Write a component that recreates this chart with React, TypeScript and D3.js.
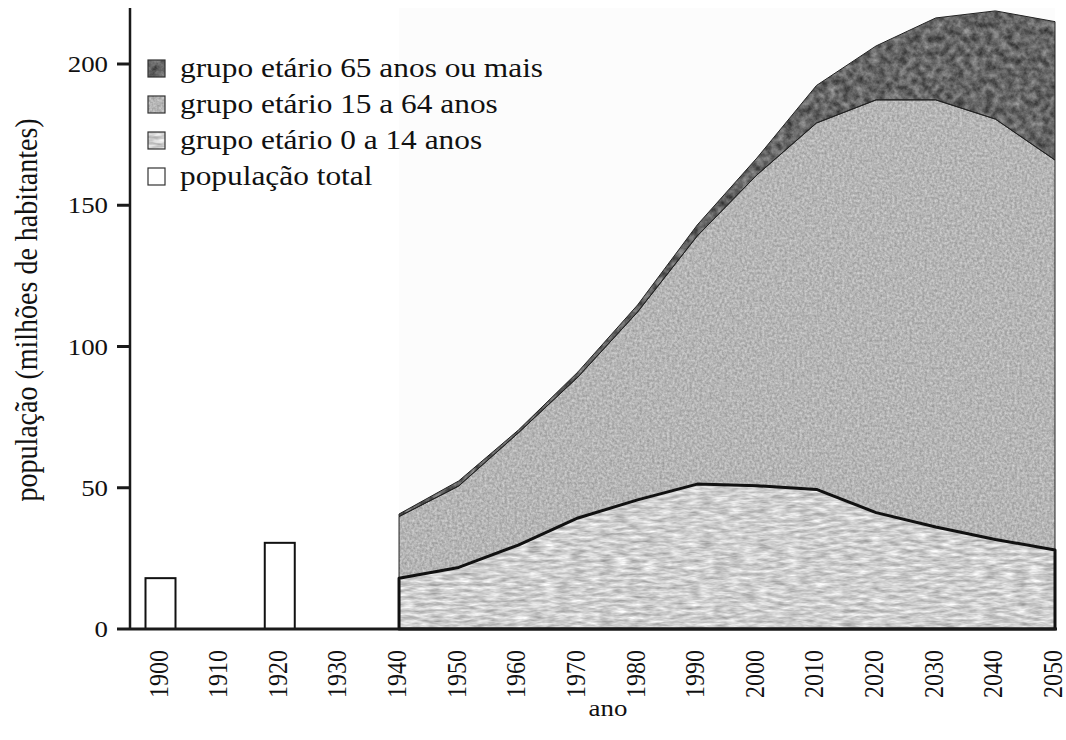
import * as d3 from "d3";

// projected population by age group, millions
const years = [1940, 1950, 1960, 1970, 1980, 1990, 2000, 2010, 2020, 2030, 2040, 2050];
const age0to14 = [18.0, 21.8, 29.7, 39.3, 45.7, 51.3, 50.7, 49.4, 41.2, 36.1, 31.7, 28.0];
const age15to64 = [21.8, 28.8, 39.7, 49.9, 66.5, 87.8, 110.0, 129.7, 146.1, 151.2, 148.8, 138.0];
const age65plus = [0.9, 1.8, 1.0, 1.8, 2.5, 3.9, 6.0, 13.3, 19.1, 29.0, 38.3, 49.0];

// census totals before 1940
const barYears = [1900, 1920];
const barTotals = [18.0, 30.5];

const xTicks = [1900, 1910, 1920, 1930, 1940, 1950, 1960, 1970, 1980, 1990, 2000, 2010, 2020, 2030, 2040, 2050];
const yTicks = [0, 50, 100, 150, 200];

const legendLabels = [
  "grupo etário 65 anos ou mais",
  "grupo etário 15 a 64 anos",
  "grupo etário 0 a 14 anos",
  "população total",
];
const legendFilters = ["tex-old", "tex-mid", "tex-young", null];

const W = 1066;
const H = 740;
const SERIF = "'Liberation Serif', 'Times New Roman', serif";
const STRETCH = 1.12; // text in the original is a bit wide horizontally

const App = () => {
  const x = d3.scaleLinear().domain([1900, 2050]).range([160.5, 1055]);
  const y = d3.scaleLinear().domain([0, 200]).range([629, 64]);

  const table = years.map((yr, i) => ({
    year: yr,
    young: age0to14[i],
    mid: age15to64[i],
    old: age65plus[i],
  }));
  const series = d3.stack<any>().keys(["young", "mid", "old"])(table);

  const area = d3
    .area<any>()
    .x((d) => x(d.data.year))
    .y0((d) => y(d[0]))
    .y1((d) => y(d[1]));

  const paths = series.map((s) => area(s) as string);
  const texIds = ["tex-young", "tex-mid", "tex-old"];

  const x0 = x(1940);
  const x1 = x(2050);
  const barW = 30;

  return (
    <svg
      width={W}
      height={H}
      viewBox={`0 0 ${W} ${H}`}
      style={{ position: "absolute", left: 0, top: 0, background: "#fff" }}
      fontFamily={SERIF}
    >
      <defs>
        <filter id="tex-old" x="0" y="0" width="1" height="1" colorInterpolationFilters="sRGB">
          <feTurbulence type="fractalNoise" baseFrequency="0.14" numOctaves={4} seed={7} />
          <feColorMatrix
            type="matrix"
            values="0.55 0 0 0 0.12  0.55 0 0 0 0.12  0.55 0 0 0 0.12  0 0 0 0 1"
          />
        </filter>
        <filter id="tex-mid" x="0" y="0" width="1" height="1" colorInterpolationFilters="sRGB">
          <feTurbulence type="fractalNoise" baseFrequency="0.4" numOctaves={2} seed={3} />
          <feColorMatrix
            type="matrix"
            values="0.32 0 0 0 0.55  0.32 0 0 0 0.55  0.32 0 0 0 0.55  0 0 0 0 1"
          />
        </filter>
        <filter id="tex-young" x="0" y="0" width="1" height="1" colorInterpolationFilters="sRGB">
          <feTurbulence type="fractalNoise" baseFrequency="0.07 0.3" numOctaves={3} seed={11} />
          <feColorMatrix
            type="matrix"
            values="0.5 0 0 0 0.56  0.5 0 0 0 0.56  0.5 0 0 0 0.56  0 0 0 0 1"
          />
        </filter>
        {paths.map((p, i) => (
          <clipPath key={i} id={`clip-${i}`}>
            <path d={p} />
          </clipPath>
        ))}
      </defs>

      {/* faint paper tone behind the projection period */}
      <rect x={x0} y={8} width={x1 - x0} height={y(0) - 8} fill="#fcfcfc" />

      {/* textured stacked areas */}
      {paths.map((p, i) => (
        <rect
          key={"t" + i}
          x={x0 - 2}
          y={0}
          width={x1 - x0 + 4}
          height={y(0) + 2}
          filter={`url(#${texIds[i]})`}
          clipPath={`url(#clip-${i})`}
        />
      ))}
      <path d={paths[2]} fill="none" stroke="#222" strokeWidth={1} />
      <path d={paths[1]} fill="none" stroke="#222" strokeWidth={1} />
      <path d={paths[0]} fill="none" stroke="#111" strokeWidth={3} strokeLinejoin="round" />

      {/* bars for total population */}
      {barYears.map((yr, i) => (
        <rect
          key={yr}
          x={x(yr) - barW / 2}
          y={y(barTotals[i])}
          width={barW}
          height={y(0) - y(barTotals[i])}
          fill="#fff"
          stroke="#111"
          strokeWidth={2}
        />
      ))}

      {/* axes */}
      <line x1={130} x2={130} y1={8} y2={y(0)} stroke="#1a1a1a" strokeWidth={2.5} />
      <line x1={130} x2={1057} y1={y(0)} y2={y(0)} stroke="#1a1a1a" strokeWidth={3} />
      {yTicks.map((t) => (
        <g key={t}>
          <line x1={117} x2={130} y1={y(t)} y2={y(t)} stroke="#1a1a1a" strokeWidth={3} />
          <text
            transform={`translate(108,${y(t) + 8}) scale(${STRETCH},1)`}
            textAnchor="end"
            fontSize={24}
            fill="#111"
          >
            {t}
          </text>
        </g>
      ))}
      {xTicks.map((t) => (
        <text
          key={t}
          transform={`translate(${x(t) + 7},650) rotate(-90) scale(1,${STRETCH})`}
          textAnchor="end"
          fontSize={24}
          fill="#111"
        >
          {t}
        </text>
      ))}

      <text
        transform={`translate(608,716) scale(${STRETCH},1)`}
        textAnchor="middle"
        fontSize={24}
        fill="#111"
      >
        ano
      </text>
      <text
        transform={`translate(37,310) rotate(-90) scale(1,${STRETCH})`}
        textAnchor="middle"
        fontSize={28}
        fill="#111"
      >
        população (milhões de habitantes)
      </text>

      {/* legend */}
      {legendLabels.map((label, i) => {
        const base = 77 + i * 36;
        const f = legendFilters[i];
        return (
          <g key={label}>
            {f ? (
              <rect x={148} y={base - 17} width={17} height={17} filter={`url(#${f})`} />
            ) : null}
            <rect
              x={148}
              y={base - 17}
              width={17}
              height={17}
              fill={f ? "none" : "#fff"}
              stroke="#333"
              strokeWidth={1.2}
            />
            <text
              transform={`translate(180,${base}) scale(${STRETCH},1)`}
              fontSize={28}
              fill="#111"
            >
              {label}
            </text>
          </g>
        );
      })}
    </svg>
  );
};

export default App;
